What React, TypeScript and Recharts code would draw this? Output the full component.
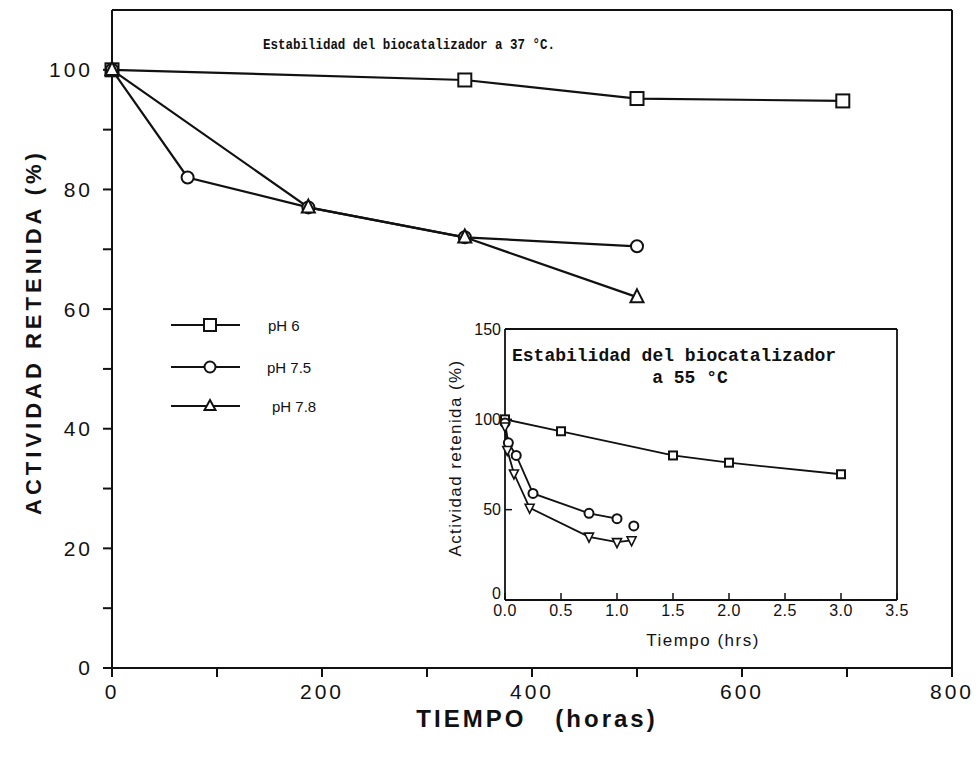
import { LineChart, Line, XAxis, YAxis, ReferenceLine } from 'recharts'

// main chart, 37 °C (hours)
const hours6 = [0, 336, 500, 696]
const ph6 = [100, 98.3, 95.2, 94.8]
const hours75 = [0, 72, 187, 336, 500]
const ph75 = [100, 82, 77, 72, 70.5]
const hours78 = [0, 187, 336, 500]
const ph78 = [100, 77, 72, 62]

// inset, 55 °C (hrs)
const insetHrs6 = [0, 0.5, 1.5, 2.0, 3.0]
const insetPh6 = [100, 93.4, 80, 76, 69.6]
const insetHrs75 = [0, 0.03, 0.1, 0.25, 0.75, 1.0]
const insetPh75 = [98, 87, 80, 59, 48, 45]
const insetHrs75Loose = [1.15]
const insetPh75Loose = [41]
const insetHrs78 = [0, 0.02, 0.08, 0.22, 0.75, 1.0, 1.13]
const insetPh78 = [96, 83, 70, 51, 35, 32, 33]

const mainXTicks = [0, 100, 200, 300, 400, 500, 600, 700, 800]
const mainYTicks = [0, 10, 20, 30, 40, 50, 60, 70, 80, 90, 100]
const insetXTicks = [0, 0.5, 1.0, 1.5, 2.0, 2.5, 3.0, 3.5]
const insetYTicks = [0, 50, 100, 150]

const legendLabels = ['pH 6', 'pH 7.5', 'pH 7.8']

const zip = (xs: number[], ys: number[]) => xs.map((t, i) => ({ t, v: ys[i] }))

const INK = '#111'
const sans = '"Liberation Sans", Arial, sans-serif'

const square = (s: number) => (p: any) =>
  <rect key={p.index} x={p.cx - s / 2} y={p.cy - s / 2} width={s} height={s} fill="#fff" stroke={INK} strokeWidth={2} />
const circle = (r: number) => (p: any) =>
  <circle key={p.index} cx={p.cx} cy={p.cy} r={r} fill="#fff" stroke={INK} strokeWidth={2} />
const triUp = (s: number) => (p: any) =>
  <path key={p.index} d={`M${p.cx},${p.cy - s * 0.6} L${p.cx + s / 2},${p.cy + s * 0.4} L${p.cx - s / 2},${p.cy + s * 0.4} Z`} fill="#fff" stroke={INK} strokeWidth={2} />
const triDown = (s: number) => (p: any) =>
  <path key={p.index} d={`M${p.cx},${p.cy + s * 0.6} L${p.cx + s / 2},${p.cy - s * 0.4} L${p.cx - s / 2},${p.cy - s * 0.4} Z`} fill="#fff" stroke={INK} strokeWidth={1.6} />

// inset y tick: the "0" sits a little above the corner, as in the scan
const InsetYTick = (p: any) => {
  const v = p.payload.value
  const dy = v === 0 ? -7 : 0
  return (
    <text x={p.x} y={p.y + dy} textAnchor="end" dominantBaseline="central" fontFamily={sans} fontSize={16} fill={INK}>
      {v}
    </text>
  )
}

function MainChart() {
  const tick = { fontFamily: sans, fontSize: 21, fill: INK, letterSpacing: 3 }
  return (
    <LineChart width={979} height={760} margin={{ top: 10, right: 27, left: 52, bottom: 52 }}>
      <XAxis
        type="number"
        dataKey="t"
        domain={[0, 800]}
        ticks={mainXTicks}
        tickFormatter={(v: number) => (v % 200 === 0 ? String(v) : '')}
        tick={tick}
        tickSize={9}
        tickMargin={7}
        height={40}
        axisLine={{ stroke: INK, strokeWidth: 2 }}
        tickLine={{ stroke: INK, strokeWidth: 2 }}
        label={() => (
          <text x={537} y={727} textAnchor="middle" fontFamily={sans} fontSize={24} fontWeight="bold" letterSpacing={3} fill={INK} style={{ whiteSpace: 'pre' }}>
            {'TIEMPO   (horas)'}
          </text>
        )}
      />
      <YAxis
        type="number"
        domain={[0, 110]}
        ticks={mainYTicks}
        tickFormatter={(v: number) => (v % 20 === 0 ? String(v) : '')}
        tick={tick}
        tickSize={9}
        tickMargin={10}
        width={60}
        axisLine={{ stroke: INK, strokeWidth: 2 }}
        tickLine={{ stroke: INK, strokeWidth: 2 }}
        label={() => (
          <text x={33} y={332} transform="rotate(-90 33 332)" textAnchor="middle" dominantBaseline="central" fontFamily={sans} fontSize={22} fontWeight="bold" letterSpacing={4} fill={INK}>
            ACTIVIDAD RETENIDA (%)
          </text>
        )}
      />
      <ReferenceLine
        y={110}
        stroke={INK}
        strokeWidth={2}
        label={() => (
          <text x={263} y={49} fontFamily='"Liberation Mono", monospace' fontSize={15} fontWeight="bold" textLength={292} lengthAdjust="spacingAndGlyphs" fill={INK}>
            Estabilidad del biocatalizador a 37 °C.
          </text>
        )}
      />
      <ReferenceLine x={800} stroke={INK} strokeWidth={2} />
      <Line data={zip(hours6, ph6)} dataKey="v" stroke={INK} strokeWidth={2.2} dot={square(13)} isAnimationActive={false} />
      <Line data={zip(hours75, ph75)} dataKey="v" stroke={INK} strokeWidth={2.2} dot={circle(6)} isAnimationActive={false} />
      <Line data={zip(hours78, ph78)} dataKey="v" stroke={INK} strokeWidth={2.2} dot={triUp(13)} isAnimationActive={false} />
    </LineChart>
  )
}

function InsetChart() {
  const tick = { fontFamily: sans, fontSize: 16, fill: INK, letterSpacing: 0.5 }
  return (
    <LineChart width={480} height={360} margin={{ top: 29, right: 13, left: 25, bottom: 15 }}>
      <XAxis
        type="number"
        dataKey="t"
        domain={[0, 3.5]}
        ticks={insetXTicks}
        tickFormatter={(v: number) => v.toFixed(1)}
        tick={tick}
        tickSize={-7}
        tickMargin={12}
        height={45}
        axisLine={{ stroke: INK, strokeWidth: 1.8 }}
        tickLine={{ stroke: INK, strokeWidth: 1.5 }}
        label={() => (
          <text x={273} y={346} textAnchor="middle" fontFamily={sans} fontSize={17} letterSpacing={1.5} fill={INK}>
            Tiempo (hrs)
          </text>
        )}
      />
      <YAxis
        type="number"
        domain={[0, 150]}
        ticks={insetYTicks}
        tick={<InsetYTick />}
        tickSize={-7}
        tickMargin={11}
        width={50}
        axisLine={{ stroke: INK, strokeWidth: 1.8 }}
        tickLine={{ stroke: INK, strokeWidth: 1.5 }}
        label={() => (
          <text x={25} y={158} transform="rotate(-90 25 158)" textAnchor="middle" dominantBaseline="central" fontFamily={sans} fontSize={17} letterSpacing={1.4} fill={INK}>
            Actividad retenida (%)
          </text>
        )}
      />
      <ReferenceLine
        y={150}
        stroke={INK}
        strokeWidth={1.8}
        label={() => (
          <g fontFamily='"Liberation Mono", monospace' fontSize={18} fontWeight="bold" fill={INK}>
            <text x={82} y={61}>Estabilidad del biocatalizador</text>
            <text x={260} y={83} textAnchor="middle">a 55 °C</text>
          </g>
        )}
      />
      <ReferenceLine x={3.5} stroke={INK} strokeWidth={1.8} />
      <Line data={zip(insetHrs6, insetPh6)} dataKey="v" stroke={INK} strokeWidth={1.8} dot={square(8)} isAnimationActive={false} />
      <Line data={zip(insetHrs75, insetPh75)} dataKey="v" stroke={INK} strokeWidth={1.8} dot={circle(4.5)} isAnimationActive={false} />
      <Line data={zip(insetHrs75Loose, insetPh75Loose)} dataKey="v" stroke="none" dot={circle(4.5)} isAnimationActive={false} />
      <Line data={zip(insetHrs78, insetPh78)} dataKey="v" stroke={INK} strokeWidth={1.8} dot={triDown(9)} isAnimationActive={false} />
    </LineChart>
  )
}

function LegendBox() {
  const rows = [325, 367, 406]
  const textX = [268, 267, 272]
  const marks = [
    (x: number, y: number) => <rect x={x - 6} y={y - 6} width={12} height={12} fill="#fff" stroke={INK} strokeWidth={2} />,
    (x: number, y: number) => <circle cx={x} cy={y} r={5.5} fill="#fff" stroke={INK} strokeWidth={2} />,
    (x: number, y: number) => <path d={`M${x},${y - 6} L${x + 5.5},${y + 4} L${x - 5.5},${y + 4} Z`} fill="#fff" stroke={INK} strokeWidth={2} />,
  ]
  return (
    <svg width={979} height={760} style={{ position: 'absolute', left: 0, top: 0, pointerEvents: 'none' }}>
      {legendLabels.map((name, i) => (
        <g key={name}>
          <line x1={171} x2={240} y1={rows[i]} y2={rows[i]} stroke={INK} strokeWidth={2} />
          {marks[i](210, rows[i])}
          <text x={textX[i]} y={rows[i]} dominantBaseline="central" fontFamily={sans} fontSize={15} fill={INK}>{name}</text>
        </g>
      ))}
    </svg>
  )
}

export default function App() {
  return (
    <div style={{ position: 'absolute', left: 0, top: 0, width: 979, height: 760, background: '#fff' }}>
      <div style={{ position: 'absolute', left: 0, top: 0 }}>
        <MainChart />
      </div>
      <div style={{ position: 'absolute', left: 430, top: 300 }}>
        <InsetChart />
      </div>
      <LegendBox />
    </div>
  )
}
